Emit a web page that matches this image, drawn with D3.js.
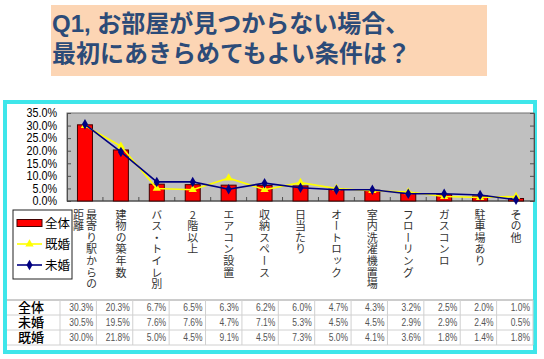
<!DOCTYPE html>
<html><head><meta charset="utf-8">
<script src="https://cdn.jsdelivr.net/npm/d3@7/dist/d3.min.js"></script>
<style>
html,body{margin:0;padding:0;background:#fff;}
svg{display:block;}
</style></head>
<body>
<svg id="c" width="544" height="359"></svg>
<script>
const titleLines = ["Q1, お部屋が見つからない場合、", "最初にあきらめてもよい条件は？"];
const categories = ["最寄り駅からの距離","建物の築年数","バス・トイレ別","2階以上","エアコン設置","収納スペース","日当たり","オートロック","室内洗濯機置場","フローリング","ガスコンロ","駐車場あり","その他"];
const seriesNames = ["全体","既婚","未婚"];
const totalValues = [30.3,20.3,6.7,6.5,6.3,6.2,6.0,4.7,4.3,3.2,2.5,2.0,1.0];
const singleValues = [30.5,19.5,7.6,7.6,4.7,7.1,5.3,4.5,4.5,2.9,2.9,2.4,0.5];
const marriedValues = [30.0,21.8,5.0,4.5,9.1,4.5,7.3,5.0,4.1,3.6,1.8,1.4,1.8];
const yTicks = [0,5,10,15,20,25,30,35];
const tableRows = [["全体", totalValues],["未婚", singleValues],["既婚", marriedValues]];

const svg = d3.select("#c");
const JP = "'Noto Sans CJK JP','Noto Sans',sans-serif";
const JPL = "'Liberation Sans','Noto Sans CJK JP',sans-serif";
const LAT = "'Liberation Sans',Arial,sans-serif";

// title box
svg.append("rect").attr("x",51).attr("y",5).attr("width",436).attr("height",71).attr("fill","#fcd5b4");
titleLines.forEach((t,i)=>{
  svg.append("text").attr("x",52).attr("y",32+i*30).text(t)
    .attr("font-family",JPL).attr("font-weight","bold").attr("font-size",24)
    .attr("fill","#2c4b78");
});

// cyan frame
svg.append("rect").attr("x",5).attr("y",102).attr("width",530).attr("height",250)
  .attr("fill","#fff").attr("stroke","#3ee6ea").attr("stroke-width",4);

// plot
const x = d3.scaleBand().domain(categories).range([67,534]).paddingInner(0).paddingOuter(0);
const y = d3.scaleLinear().domain([0,35]).range([201,113]);
svg.append("rect").attr("x",67).attr("y",113).attr("width",467).attr("height",88)
  .attr("fill","#c0c0c0").attr("stroke","#707070").attr("stroke-width",1);

// ticks inward
const gL = svg.append("g").attr("transform","translate(67,0)")
  .call(d3.axisRight(y).tickValues(yTicks).tickSize(4).tickFormat(""));
const gR = svg.append("g").attr("transform","translate(534,0)")
  .call(d3.axisLeft(y).tickValues(yTicks).tickSize(4).tickFormat(""));
[gL,gR].forEach(g=>{g.select(".domain").attr("stroke","#505050");g.selectAll("line").attr("stroke","#505050");});

// y labels
svg.append("g").selectAll("text").data(yTicks).join("text")
  .attr("transform",d=>`translate(57,${y(d)+4.3}) scale(0.9,1)`)
  .attr("text-anchor","end").attr("font-family",LAT).attr("font-size",12).attr("fill","#000")
  .text(d=>d.toFixed(1)+"%");

// bottom ticks
svg.append("g").selectAll("line").data(categories.slice(1)).join("line")
  .attr("x1",d=>x(d)).attr("x2",d=>x(d)).attr("y1",201).attr("y2",197).attr("stroke","#505050");
svg.append("line").attr("x1",67).attr("x2",534).attr("y1",201).attr("y2",201).attr("stroke","#404040");

// bars
const bw = 15;
svg.append("g").selectAll("rect").data(totalValues).join("rect")
  .attr("x",(d,i)=>x(categories[i])+x.bandwidth()/2-bw/2)
  .attr("y",d=>y(d)).attr("width",bw).attr("height",d=>201-y(d))
  .attr("fill","#ff0000").attr("stroke","#400000").attr("stroke-width",1);

const cx = i=>x(categories[i])+x.bandwidth()/2;
const line = d3.line().x((d,i)=>cx(i)).y(d=>y(d));
// married (yellow)
svg.append("path").datum(marriedValues).attr("d",line).attr("fill","none").attr("stroke","#ffff00").attr("stroke-width",1.6);
const tri = d3.symbol().type(d3.symbolTriangle).size(30);
svg.append("g").selectAll("path").data(marriedValues).join("path")
  .attr("d",tri).attr("transform",(d,i)=>`translate(${cx(i)},${y(d)})`).attr("fill","#ffff00");
// single (navy)
svg.append("path").datum(singleValues).attr("d",line).attr("fill","none").attr("stroke","#000080").attr("stroke-width",1.6);
const dia = d3.symbol().type(d3.symbolDiamond).size(32);
svg.append("g").selectAll("path").data(singleValues).join("path")
  .attr("d",dia).attr("transform",(d,i)=>`translate(${cx(i)},${y(d)})`).attr("fill","#000080");

// category labels (vertical)
categories.forEach((c,i)=>{
  const chunks=[];
  for(let k=0;k<c.length;k+=7) chunks.push(c.slice(k,k+7));
  const n=chunks.length;
  chunks.forEach((ch,j)=>{
    const off = (n-1)/2*13 - j*13;
    svg.append("text").attr("x",cx(i)+off).attr("y",209).text(ch)
      .attr("font-family",JP).attr("font-size",11).attr("fill","#333")
      .style("writing-mode","vertical-rl").style("text-orientation","upright")
      .attr("letter-spacing",0.6);
  });
});

// legend
svg.append("rect").attr("x",13).attr("y",210).attr("width",59).attr("height",69)
  .attr("fill","#fff").attr("stroke","#222").attr("stroke-width",1);
const ly=[223,244,265];
svg.append("rect").attr("x",17).attr("y",ly[0]-3.5).attr("width",25).attr("height",7).attr("fill","#ff0000").attr("stroke","#400000");
svg.append("line").attr("x1",17).attr("x2",42).attr("y1",ly[1]).attr("y2",ly[1]).attr("stroke","#ffff00").attr("stroke-width",1.6);
svg.append("path").attr("d",tri).attr("transform",`translate(29.5,${ly[1]})`).attr("fill","#ffff00");
svg.append("line").attr("x1",17).attr("x2",42).attr("y1",ly[2]).attr("y2",ly[2]).attr("stroke","#000080").attr("stroke-width",1.6);
svg.append("path").attr("d",dia).attr("transform",`translate(29.5,${ly[2]})`).attr("fill","#000080");
seriesNames.forEach((s,i)=>{
  svg.append("text").attr("x",45).attr("y",ly[i]+4.5).text(s)
    .attr("font-family",JP).attr("font-size",12.5).attr("fill","#000");
});

// table
const colW = (533-60)/13;
const tTop=300, rh=15;
for(let r=0;r<=3;r++){
  svg.append("line").attr("x1",7).attr("x2",533).attr("y1",tTop+r*rh).attr("y2",tTop+r*rh)
    .attr("stroke",r===0?"#999":"#d0d0d0").attr("stroke-width",1);
}
for(let c=0;c<=13;c++){
  svg.append("line").attr("x1",60+c*colW).attr("x2",60+c*colW).attr("y1",tTop).attr("y2",tTop+3*rh)
    .attr("stroke","#d0d0d0").attr("stroke-width",1);
}
tableRows.forEach((row,r)=>{
  svg.append("text").attr("x",18).attr("y",tTop+r*rh+12).text(row[0])
    .attr("font-family",JPL).attr("font-size",13).attr("font-weight","500").attr("fill","#000");
  svg.append("g").selectAll("text").data(row[1]).join("text")
    .attr("transform",(d,i)=>`translate(${60+(i+1)*colW-3},${tTop+r*rh+11}) scale(0.85,1)`)
    .attr("text-anchor","end").attr("font-family",LAT).attr("font-size",10).attr("fill","#555")
    .text(d=>d.toFixed(1)+"%");
});
</script>
</body></html>
